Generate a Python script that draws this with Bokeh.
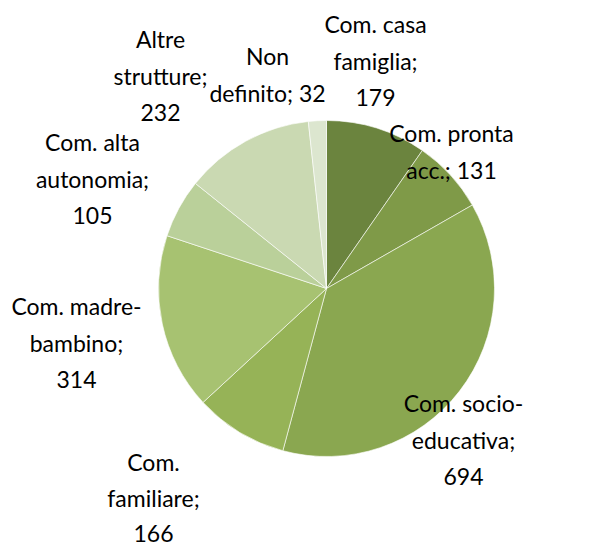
from bokeh.plotting import figure
from bokeh.models import Range1d, ColumnDataSource
from bokeh.core.properties import value
from bokeh.embed import file_html
from bokeh.resources import INLINE
import math

# ---- data ----
categories = ["Com. casa famiglia", "Com. pronta acc.", "Com. socio-educativa",
              "Com. familiare", "Com. madre-bambino", "Com. alta autonomia",
              "Altre strutture", "Non definito"]
values = [179, 131, 694, 166, 314, 105, 232, 32]
colors = ["#6B843E", "#7F9A48", "#8AA750", "#96B357", "#A7C271", "#BAD09A", "#CAD9B2", "#DCE6CF"]

# label line layout (wrapping of "category; value")
label_lines = [
    ["Com. casa", "famiglia;", "{v}"],
    ["Com. pronta", "acc.; {v}"],
    ["Com. socio-", "educativa;", "{v}"],
    ["Com.", "familiare;", "{v}"],
    ["Com. madre-", "bambino;", "{v}"],
    ["Com. alta", "autonomia;", "{v}"],
    ["Altre", "strutture;", "{v}"],
    ["Non", "definito; {v}"],
]
# label anchor (center x, first-line y, line step) in picture pixels
label_pos = [(375, 23, 37), (451, 132, 37), (463, 402, 37), (153, 461, 36),
             (76, 305, 37), (92, 141, 37), (160, 38, 37), (267, 55, 37)]

W, H = 599, 548

def fy(y):
    return H - y

p = figure(width=W, height=H, output_backend="svg", toolbar_location=None,
           x_range=Range1d(0, W), y_range=Range1d(0, H),
           min_border=0, outline_line_color=None)
p.axis.visible = False
p.grid.visible = False
p.background_fill_color = "white"

cx, cy, r = 326, 288, 168
total = sum(values)
starts, ends = [], []
cum = 0
for v in values:
    starts.append(math.pi / 2 - 2 * math.pi * cum / total)
    cum += v
    ends.append(math.pi / 2 - 2 * math.pi * cum / total)

src = ColumnDataSource(dict(start=starts, end=ends, color=colors))
p.wedge(x=cx, y=fy(cy), radius=r, start_angle="start", end_angle="end",
        direction="clock", fill_color="color", line_color="white", line_width=0.6,
        source=src)

tx, ty, tt = [], [], []
for lines, (x0, y0, step), v in zip(label_lines, label_pos, values):
    for i, ln in enumerate(lines):
        tx.append(x0)
        ty.append(fy(y0 + i * step))
        tt.append(ln.format(v=v))

p.text(x=tx, y=ty, text=tt, text_align="center", text_baseline="middle",
       text_font=value("Lato"), text_font_size="23px", text_color="#000000")

open("out.html", "w").write(file_html(p, INLINE))
